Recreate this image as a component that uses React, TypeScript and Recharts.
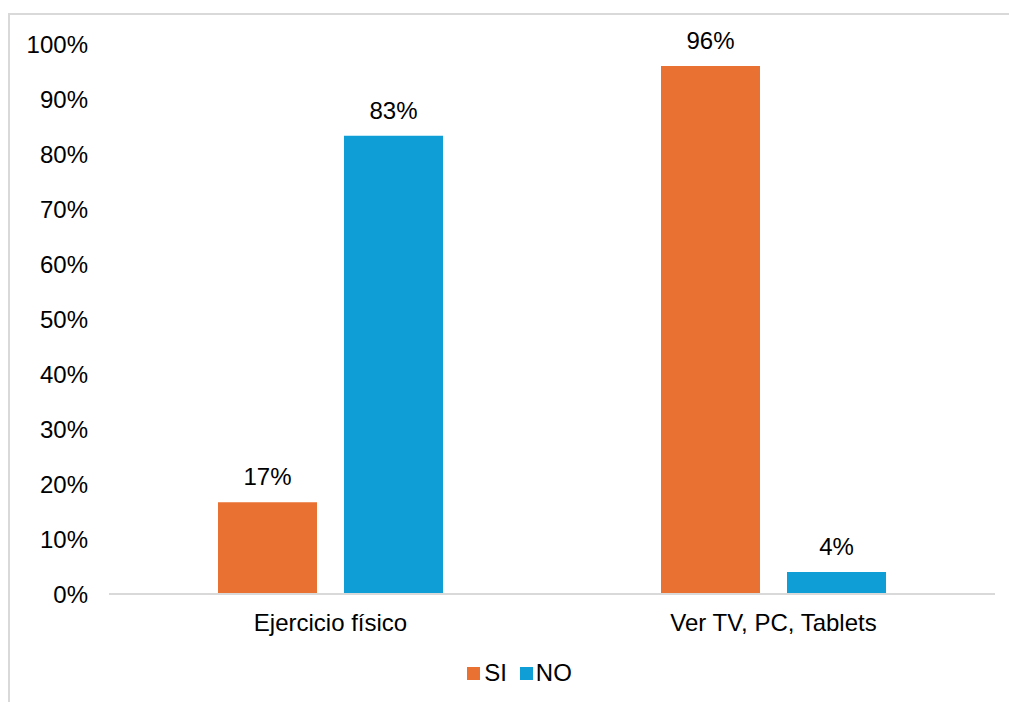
import React from "react";
import { BarChart, Bar, XAxis, YAxis, Legend, LabelList } from "recharts";

const categories = ["Ejercicio físico", "Ver TV, PC, Tablets"];
const siValues = [16.7, 96];
const noValues = [83.3, 4];
const yTicks = [0, 10, 20, 30, 40, 50, 60, 70, 80, 90, 100];

const data = categories.map((c, i) => ({ name: c, SI: siValues[i], NO: noValues[i] }));

const FONT = "'Liberation Sans', Arial, sans-serif";
const FS = 24;
const ORANGE = "#E97132";
const BLUE = "#0F9ED5";

const LegendContent = () => (
  <div style={{ display: "flex", justifyContent: "center", alignItems: "center", height: 30, fontFamily: FONT, fontSize: FS, color: "#000", paddingLeft: 30 }}>
    <span style={{ display: "inline-block", width: 13, height: 13, background: ORANGE, marginRight: 4 }} />
    <span style={{ marginRight: 13 }}>SI</span>
    <span style={{ display: "inline-block", width: 13, height: 13, background: BLUE, marginRight: 3 }} />
    <span>NO</span>
  </div>
);

export default function App() {
  return (
    <div style={{ position: "absolute", left: 0, top: 0, width: 1009, height: 702, overflow: "hidden", background: "#fff" }}>
      <div style={{ position: "absolute", left: 8, top: 13, width: 1010, height: 700, borderTop: "2px solid #d9d9d9", borderLeft: "2px solid #d9d9d9" }} />
      <div style={{ position: "absolute", left: 0, top: 0 }}>
        <BarChart width={1009} height={702} data={data} margin={{ top: 44, right: 14, bottom: 0, left: 0 }} barSize={99} barGap={27}>
          <XAxis
            dataKey="name"
            height={78}
            tickLine={false}
            axisLine={{ stroke: "#d9d9d9", strokeWidth: 2 }}
            tick={{ fill: "#000", fontSize: FS, fontFamily: FONT }}
            tickMargin={14}
          />
          <YAxis
            width={109}
            domain={[0, 100]}
            ticks={yTicks}
            interval={0}
            axisLine={false}
            tickLine={false}
            tickMargin={15}
            tick={{ fill: "#000", fontSize: FS, fontFamily: FONT }}
            tickFormatter={(v: number) => `${v}%`}
          />
          <Legend
            verticalAlign="bottom"
            content={<LegendContent />}
            wrapperStyle={{ top: 658, bottom: "auto", left: 0, width: 1009 }}
          />
          <Bar dataKey="SI" fill={ORANGE} isAnimationActive={false}>
            <LabelList dataKey="SI" position="top" offset={17} formatter={(v: number) => `${Math.round(v)}%`} style={{ fill: "#000", fontSize: FS, fontFamily: FONT }} />
          </Bar>
          <Bar dataKey="NO" fill={BLUE} isAnimationActive={false}>
            <LabelList dataKey="NO" position="top" offset={17} formatter={(v: number) => `${Math.round(v)}%`} style={{ fill: "#000", fontSize: FS, fontFamily: FONT }} />
          </Bar>
        </BarChart>
      </div>
    </div>
  );
}
